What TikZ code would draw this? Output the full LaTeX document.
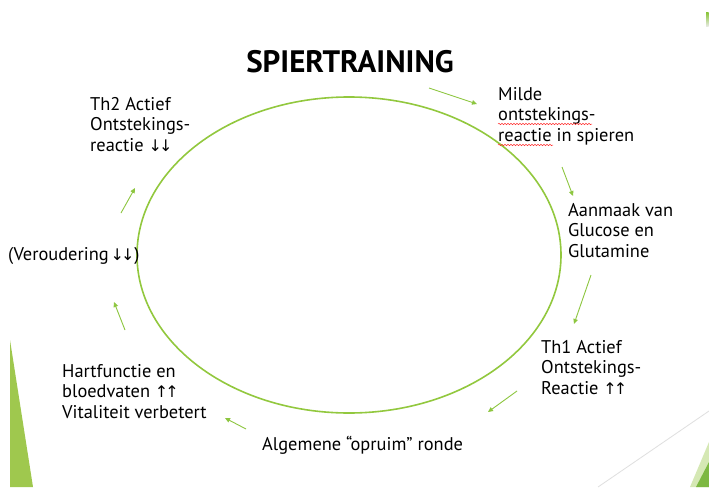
\documentclass[tikz,border=0pt]{standalone}
\usepackage{fontspec}
\setmainfont{PT Sans}
\newfontfamily\arrfont{DejaVu Sans}
\usetikzlibrary{arrows.meta,decorations.pathmorphing,shapes.geometric}
\definecolor{ringgreen}{HTML}{92C83E}
\definecolor{arrgreen}{HTML}{8DC63F}
\definecolor{tri}{HTML}{9FC84E}
\definecolor{trilight}{HTML}{D5E8B4}
\definecolor{tridark}{HTML}{7DB842}
\tikzset{
  lbl/.style={anchor=base west, inner sep=0pt, align=left, font=\fontsize{18.4}{20.5}\selectfont},
  flow/.style={draw=arrgreen, line width=0.9pt, -{Triangle[length=5pt,width=4.5pt]}},
  squig/.style={draw=red!80, line width=0.5pt, decorate, decoration={snake, amplitude=0.7pt, segment length=3pt}}
}
\newcommand{\dn}{{\arrfont\fontsize{16}{16}\selectfont ↓\kern-3pt↓}}
\newcommand{\upa}{{\arrfont\fontsize{16}{16}\selectfont ↑\kern-3pt↑}}
\begin{document}
\begin{tikzpicture}[x=1pt,y=-1pt]
\useasboundingbox (0,0) rectangle (709,487);
\fill[white] (0,0) rectangle (709,487);
% decorations
\fill[tri] (10,340) -- (10,487) -- (33,487) -- cycle;
\draw[gray!25, line width=0.8pt] (598,487) -- (709,411);
\fill[trilight] (709,442) -- (709,487) -- (690,487) -- cycle;
\fill[tridark] (709,462) -- (709,487) -- (696,487) -- cycle;
\shade[top color=arrgreen, bottom color=gray!15] (706,13) rectangle (708.5,27);
% title
\node[inner sep=0pt, anchor=base, font=\fontsize{31}{31}\selectfont\bfseries] (title) at (350,73) {SPIERTRAINING};
% ring
\node[draw=ringgreen, line width=1.6pt, ellipse, minimum width=424pt, minimum height=316pt, inner sep=0pt] (ring) at (349,255) {};
% labels (anchor = baseline of the last line)
\node[lbl] (milde) at (498,141) {Milde\\ontstekings-\\reactie in spieren};
\node[lbl] (aanmaak) at (568,257) {Aanmaak van\\Glucose en\\Glutamine};
\node[lbl] (th1) at (541,394) {Th1 Actief\\Ontstekings-\\Reactie \upa};
\node[lbl] (opruim) at (262,450) {Algemene “opruim” ronde};
\node[lbl] (hart) at (62,418) {Hartfunctie en\\bloedvaten \upa\\Vitaliteit verbetert};
\node[lbl] (verou) at (8,260) {(Veroudering\kern2pt\dn)};
\node[lbl] (th2) at (90,151) {Th2 Actief\\Ontstekings-\\reactie \dn};
% spell-check squiggles
\coordinate (s1a) at (498,124); \coordinate (s1b) at (592,124);
\coordinate (s2a) at (498,145); \coordinate (s2b) at (553,145);
\draw[squig] (s1a) -- (s1b);
\draw[squig] (s2a) -- (s2b);
% arrows
\coordinate (a1s) at (429,88);  \coordinate (a1e) at (477,104);
\coordinate (a2s) at (562,167); \coordinate (a2e) at (573,196);
\coordinate (a3s) at (591,275); \coordinate (a3e) at (574,324);
\coordinate (a4s) at (517,391); \coordinate (a4e) at (488,412);
\coordinate (a5s) at (246,429); \coordinate (a5e) at (225,418);
\coordinate (a6s) at (125,330); \coordinate (a6e) at (114,302);
\coordinate (a7s) at (121,213); \coordinate (a7e) at (135,188);
\draw[flow] (a1s) -- (a1e);
\draw[flow] (a2s) -- (a2e);
\draw[flow] (a3s) -- (a3e);
\draw[flow] (a4s) -- (a4e);
\draw[flow] (a5s) -- (a5e);
\draw[flow] (a6s) -- (a6e);
\draw[flow] (a7s) -- (a7e);
\end{tikzpicture}
\end{document}
